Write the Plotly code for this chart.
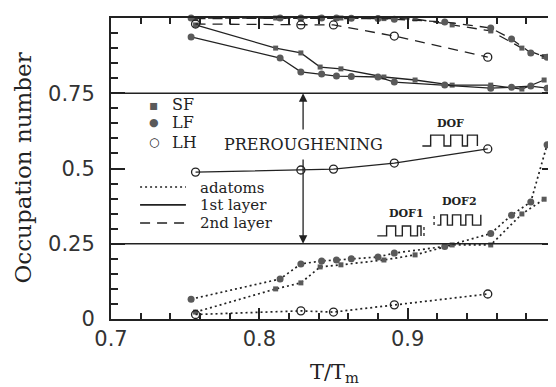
import plotly.graph_objects as go

# ---------------- data ----------------
LF_T   = [0.754, 0.814, 0.828, 0.842, 0.852, 0.862, 0.880, 0.891, 0.925, 0.956, 0.970, 0.983, 0.994]
LF_ad  = [0.066, 0.133, 0.183, 0.193, 0.196, 0.200, 0.206, 0.219, 0.241, 0.284, 0.345, 0.389, 0.579]
LF_1st = [0.937, 0.867, 0.821, 0.814, 0.807, 0.806, 0.804, 0.787, 0.777, 0.767, 0.770, 0.774, 0.767]
LF_2nd = [1.000, 1.000, 1.000, 1.000, 1.000, 0.999, 0.998, 0.996, 0.987, 0.967, 0.930, 0.884, 0.870]

SF_T   = [0.757, 0.811, 0.828, 0.841, 0.855, 0.884, 0.905, 0.930, 0.956, 0.977, 0.992]
SF_ad  = [0.023, 0.100, 0.120, 0.173, 0.180, 0.196, 0.213, 0.246, 0.246, 0.349, 0.398]
SF_1st = [0.977, 0.900, 0.884, 0.837, 0.831, 0.804, 0.794, 0.777, 0.777, 0.764, 0.794]
SF_2nd = [0.998, 1.000, 1.000, 1.000, 1.000, 0.998, 0.997, 0.977, 0.957, 0.900, 0.872]

LH_T   = [0.757, 0.828, 0.850, 0.891, 0.954]
LH_ad  = [0.015, 0.027, 0.023, 0.047, 0.083]
LH_1st = [0.488, 0.495, 0.498, 0.518, 0.565]
LH_2nd = [0.980, 0.977, 0.977, 0.940, 0.870]

X_TICKS = [0.7, 0.8, 0.9, 1.0]
X_TICK_TEXT = ["0.7", "0.8", "0.9", "1"]
Y_TICKS = [0, 0.25, 0.5, 0.75, 1]
Y_TICK_TEXT = ["0", "0.25", "0.5", "0.75", "1"]

# ---------------- styles ----------------
INK = "#222222"
MARK = "#5a5a5a"
DOT = "2px,3px"
DASHED = "10px,7px"
DASH = {"adatoms": DOT, "1st": "solid", "2nd": DASHED}
SERIF = "DejaVu Serif"
SANS = "DejaVu Sans"

fig = go.Figure()

def add(xs, ys, kind, layer):
    if kind == "SF":
        marker = dict(symbol="square", size=5, color=MARK)
    elif kind == "LF":
        marker = dict(symbol="circle", size=7, color=MARK)
    else:
        marker = dict(symbol="circle-open", size=8, color=INK, line=dict(width=1.3))
    fig.add_trace(go.Scatter(
        x=xs, y=ys, mode="lines+markers", marker=marker,
        line=dict(color=INK, width=1.7 if layer == "adatoms" else 1.3, dash=DASH[layer]),
        cliponaxis=False, showlegend=False, hoverinfo="skip"))

for xs, a, f, s, k in [(SF_T, SF_ad, SF_1st, SF_2nd, "SF"),
                       (LF_T, LF_ad, LF_1st, LF_2nd, "LF"),
                       (LH_T, LH_ad, LH_1st, LH_2nd, "LH")]:
    add(xs, a, k, "adatoms")
    add(xs, f, k, "1st")
    add(xs, s, k, "2nd")

shapes = []
# horizontal guide lines at 0.75 and 0.25
for yv in (0.75, 0.25):
    shapes.append(dict(type="line", xref="paper", yref="y", x0=0, x1=1, y0=yv, y1=yv,
                       line=dict(color=INK, width=1.6)))

# square-wave sketches (decorations)
def wave(xs, lo, hi):
    pts = []
    level = lo
    pts.append((xs[0], level))
    for xv in xs[1:]:
        pts.append((xv, level))
        level = hi if level == lo else lo
        pts.append((xv, level))
    path = "M " + " L ".join(f"{px},{py}" for px, py in pts[:-1])
    return dict(type="path", xref="x", yref="y", path=path, line=dict(color=INK, width=1.4))

shapes.append(wave([0.9099, 0.9155, 0.9245, 0.9290, 0.9369, 0.9403, 0.9470, 0.9470], 0.575, 0.611))
shapes.append(wave([0.8795, 0.8858, 0.8919, 0.8964, 0.9020, 0.9066, 0.9090, 0.9090], 0.276, 0.309))
shapes.append(wave([0.9200, 0.9223, 0.9268, 0.9302, 0.9358, 0.9392, 0.9437, 0.9493, 0.9493], 0.312, 0.346))
for xv, y0, y1 in [(0.9110, 0.276, 0.309), (0.9178, 0.312, 0.346)]:
    shapes.append(dict(type="line", xref="x", yref="y", x0=xv, x1=xv, y0=y0, y1=y1,
                       line=dict(color=INK, width=1.3, dash="dot")))

# line-style legend samples
for yv, d in [(0.4385, DOT), (0.379, "solid"), (0.319, DASHED)]:
    shapes.append(dict(type="line", xref="x", yref="y", x0=0.7196, x1=0.7505, y0=yv, y1=yv,
                       line=dict(color=INK, width=1.6, dash=d)))

ann = []
def txt(x, y, s, size, xanchor="left", font=SERIF, color=INK, **kw):
    ann.append(dict(x=x, y=y, xref="x", yref="y", text=s, showarrow=False,
                    xanchor=xanchor, yanchor="middle",
                    font=dict(family=font, size=size, color=color), **kw))

txt(0.7291, 0.711, "▪", 14, "center", color=MARK)
txt(0.7291, 0.654, "●", 11, "center", color=MARK)
txt(0.7291, 0.588, "○", 12, "center")
txt(0.7395, 0.711, "SF", 16)
txt(0.7395, 0.654, "LF", 16)
txt(0.7395, 0.588, "LH", 16)
txt(0.7595, 0.4385, "adatoms", 15, height=17, borderpad=0)
txt(0.7595, 0.379, "1st layer", 15, height=17, borderpad=0)
txt(0.7595, 0.319, "2nd layer", 15, height=17, borderpad=0)
txt(0.7745, 0.581, "PREROUGHENING", 16, bgcolor="white")
txt(0.929, 0.651, "<b>DOF</b>", 11, "center")
txt(0.8993, 0.352, "<b>DOF1</b>", 11, "center")
txt(0.935, 0.392, "<b>DOF2</b>", 11, "center")

# double arrow around PREROUGHENING
ann.append(dict(x=0.8295, y=0.75, ax=0.8295, ay=0.625, xref="x", yref="y", axref="x", ayref="y",
                text="", showarrow=True, arrowhead=2, arrowsize=1.3, arrowwidth=1.3, arrowcolor=INK))
ann.append(dict(x=0.8295, y=0.25, ax=0.8295, ay=0.535, xref="x", yref="y", axref="x", ayref="y",
                text="", showarrow=True, arrowhead=2, arrowsize=1.3, arrowwidth=1.3, arrowcolor=INK))

# axis titles
ann.append(dict(x=-0.2, y=0.5, xref="paper", yref="paper", text="Occupation number", showarrow=False,
                textangle=-90, xanchor="center", yanchor="middle",
                font=dict(family=SERIF, size=23, color=INK)))
ann.append(dict(x=0.503, y=-0.18, xref="paper", yref="paper", text="T/T<sub>m</sub>", showarrow=False,
                xanchor="center", yanchor="middle", font=dict(family=SERIF, size=21, color=INK)))

axis_common = dict(showgrid=False, zeroline=False, showline=True, linecolor=INK, linewidth=2,
                   mirror="allticks", ticks="inside", tickcolor=INK, tickwidth=1.5,
                   tickfont=dict(family=SANS, size=21, color="#333333"), tickmode="array",
                   automargin=False)

# the page body adds an 8px offset, so the figure is sized to end at the window edge
fig.update_layout(
    width=548, height=379,
    margin=dict(l=103, r=0, t=10, b=68),
    paper_bgcolor="white", plot_bgcolor="white",
    xaxis=dict(range=[0.7, 1.0], tickvals=X_TICKS, ticktext=X_TICK_TEXT, ticklen=11,
               ticklabelstandoff=0,
               minor=dict(tick0=0.7, dtick=0.02, ticks="inside", ticklen=6, tickcolor=INK, tickwidth=1.5),
               **axis_common),
    yaxis=dict(range=[0, 1], tickvals=Y_TICKS, ticktext=Y_TICK_TEXT, ticklen=14,
               ticklabelstandoff=10,
               minor=dict(tick0=0, dtick=0.05, ticks="inside", ticklen=7, tickcolor=INK, tickwidth=1.5),
               **axis_common),
    shapes=shapes, annotations=ann,
)

fig.write_html("out.html")
